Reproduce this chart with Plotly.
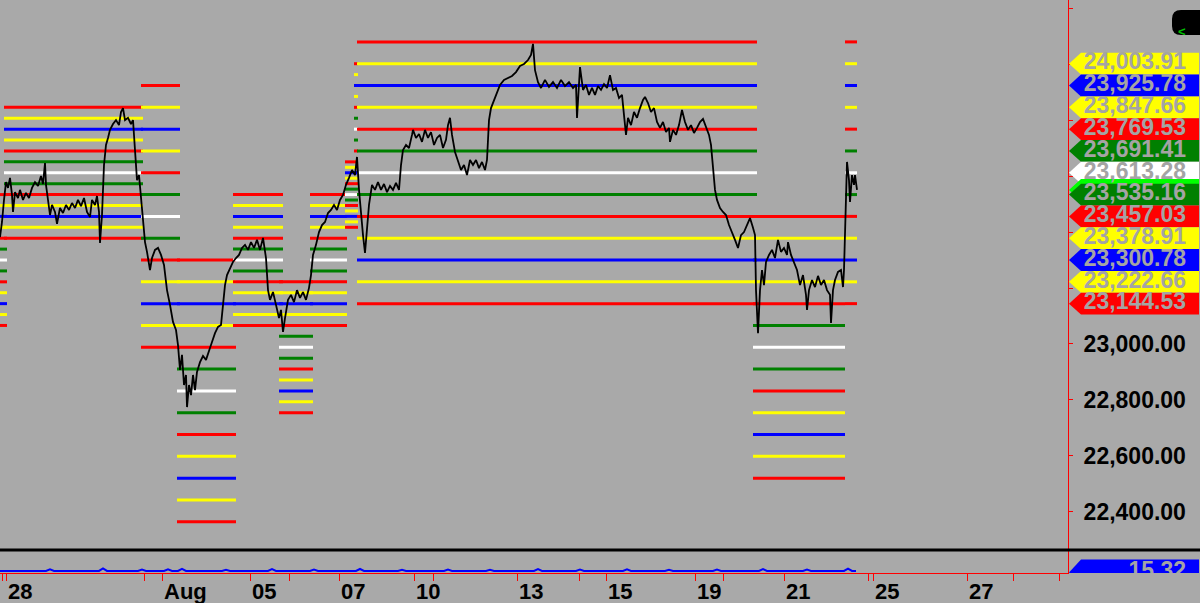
import plotly.graph_objects as go

# ---------------- data ----------------
# price series: bar index (30-min bars) and price
BARS = [0, 2, 4, 6, 8, 10, 12, 13, 15, 18, 20, 23, 26, 29, 32, 35, 38, 41, 43, 45,
        46, 48, 50, 52, 55, 57, 60, 63, 66, 69, 72, 75, 78, 81, 84, 87, 90, 92, 95, 97,
        99, 100, 102, 104, 106, 108, 110, 113, 116, 119, 121, 123, 125, 128, 131, 133, 135, 137, 139, 141,
        143, 145, 147, 150, 152, 155, 158, 161, 164, 167, 170, 173, 176, 178, 180, 182, 184, 186, 187, 189,
        191, 193, 195, 197, 200, 203, 206, 209, 212, 215, 218, 221, 223, 225, 227, 230, 233, 236, 239, 242,
        245, 248, 251, 254, 257, 260, 263, 266, 268, 270, 273, 276, 279, 281, 283, 285, 288, 291, 294, 297,
        300, 303, 306, 309, 311, 313, 316, 319, 322, 325, 328, 331, 334, 337, 340, 343, 346, 349, 352, 355,
        357, 359, 361, 363, 365, 367, 369, 372, 375, 378, 381, 384, 387, 390, 393, 396, 399, 401, 403, 406,
        409, 412, 413, 416, 419, 422, 425, 428, 431, 434, 437, 440, 443, 446, 448, 450, 452, 455, 458, 461,
        464, 467, 470, 473, 476, 479, 482, 485, 487, 489, 491, 494, 497, 500, 504, 508, 512, 516, 520, 524,
        528, 531, 533, 535, 538, 541, 545, 549, 553, 557, 561, 565, 569, 573, 576, 577, 579, 580, 583, 586,
        589, 592, 595, 598, 601, 604, 607, 610, 613, 616, 619, 622, 624, 626, 628, 631, 634, 637, 640, 643,
        645, 648, 651, 654, 657, 660, 663, 666, 669, 670, 673, 676, 679, 682, 685, 688, 691, 694, 697, 700,
        703, 706, 709, 711, 713, 715, 717, 720, 723, 726, 729, 732, 735, 738, 741, 744, 747, 750, 753, 755,
        756, 758, 760, 762, 764, 766, 769, 772, 775, 778, 781, 784, 787, 788, 791, 794, 797, 800, 803, 806,
        807, 809, 812, 815, 818, 821, 824, 827, 830, 831, 833, 835, 838, 841, 843, 844, 845, 846, 847, 849,
        850, 852, 854, 855, 857]
PRICES = [23383, 23437, 23516, 23580, 23559, 23595, 23534, 23473, 23544, 23523, 23552, 23516, 23541, 23523, 23559, 23580, 23566, 23602, 23573, 23648,
          23570, 23516, 23462, 23498, 23473, 23430, 23487, 23469, 23498, 23480, 23505, 23487, 23516, 23494, 23523, 23473, 23455, 23516, 23498, 23530,
          23473, 23362, 23462, 23641, 23713, 23738, 23767, 23788, 23802, 23784, 23831, 23845, 23802, 23810, 23788, 23802, 23695, 23587, 23605, 23516,
          23426, 23365, 23330, 23265, 23308, 23337, 23344, 23319, 23283, 23193, 23140, 23079, 23050, 22996, 22907, 22961, 22853, 22889, 22774, 22853,
          22817, 22889, 22835, 22900, 22935, 22957, 22943, 22979, 23007, 23039, 23061, 23068, 23140, 23211, 23247, 23272, 23294, 23308, 23319, 23344,
          23355, 23337, 23365, 23344, 23373, 23337, 23380, 23308, 23193, 23158, 23186, 23140, 23093, 23122, 23043, 23093, 23158, 23176, 23150, 23193,
          23165, 23186, 23158, 23201, 23247, 23319, 23355, 23401, 23426, 23437, 23469, 23480, 23498, 23480, 23516, 23534, 23570, 23595, 23623, 23605,
          23670, 23552, 23462, 23390, 23326, 23426, 23498, 23570, 23552, 23580, 23552, 23573, 23544, 23566, 23552, 23577, 23552, 23641, 23695, 23713,
          23702, 23749, 23767, 23738, 23752, 23724, 23767, 23738, 23759, 23713, 23738, 23749, 23702, 23731, 23784, 23810, 23749, 23688, 23652, 23623,
          23641, 23605, 23659, 23641, 23659, 23630, 23652, 23623, 23659, 23802, 23845, 23874, 23903, 23928, 23946, 23953, 23960, 23974, 23996, 24003,
          24017, 24035, 24075, 23981, 23938, 23917, 23946, 23921, 23938, 23917, 23946, 23924, 23938, 23917, 23928, 23810, 23910, 23992, 23910, 23928,
          23892, 23917, 23892, 23924, 23910, 23931, 23917, 23963, 23910, 23917, 23881, 23892, 23820, 23749, 23810, 23784, 23831, 23810, 23845, 23874,
          23885, 23863, 23831, 23845, 23795, 23774, 23795, 23759, 23774, 23724, 23767, 23749, 23784, 23838, 23795, 23767, 23784, 23756, 23774, 23795,
          23806, 23774, 23749, 23713, 23616, 23552, 23516, 23487, 23473, 23462, 23426, 23401, 23373, 23344, 23390, 23401, 23426, 23451, 23416, 23390,
          23193, 23039, 23193, 23265, 23211, 23294, 23319, 23337, 23308, 23373, 23330, 23344, 23319, 23365, 23319, 23294, 23265, 23211, 23247, 23176,
          23122, 23193, 23229, 23204, 23244, 23211, 23229, 23193, 23176, 23075, 23193, 23229, 23258, 23265, 23204, 23265, 23408, 23587, 23652, 23587,
          23509, 23605, 23570, 23605, 23552]

# pivot-level blocks: start bar, end bar, middle level, level step
SEG_START = [-10, 4, 141, 177, 233, 279, 310, 354, 345, 357, 753, 845]
SEG_END = [7, 143, 180, 236, 283, 313, 347, 358, 358, 757, 845, 857]
SEG_MID = [23300.78, 23613.28, 23457.03, 22832.03, 23300.78, 22988.28,
           23300.78, 23769.53, 23535.16, 23613.28, 22988.28, 23613.28]
SEG_STEP = [39.0625, 39.0625, 78.125, 78.125, 39.0625, 39.0625,
            39.0625, 39.0625, 19.53125, 78.125, 78.125, 78.125]
LEVEL_OFFSETS = [6, 5, 4, 3, 2, 1, 0, -1, -2, -3, -4, -5, -6]
LEVEL_COLORS = ["red", "yellow", "blue", "yellow", "red", "green", "white",
                "green", "red", "yellow", "blue", "yellow", "red"]

# right-hand price tags
TAG_VALUES = [24003.91, 23925.78, 23847.66, 23769.53, 23691.41, 23613.28,
              23535.16, 23457.03, 23378.91, 23300.78, 23222.66, 23144.53]
TAG_COLORS = ["yellow", "blue", "yellow", "red", "green", "white",
              "green", "red", "yellow", "blue", "yellow", "red"]

# lower indicator panel
IND_X = [0, 46, 50, 54, 99, 103, 107, 138, 142, 146, 164, 168, 172, 178, 182, 186,
         222, 226, 230, 268, 272, 276, 310, 314, 318, 356, 360, 364, 398, 402, 406,
         444, 448, 452, 486, 490, 494, 534, 538, 542, 576, 580, 584, 623, 627, 631,
         665, 669, 673, 713, 717, 721, 759, 763, 767, 803, 807, 811, 844, 848, 852, 856]
IND_V = [16.1, 16.1, 16.9, 16.1, 16.1, 17.4, 16.1, 16.1, 16.8, 16.1, 16.1, 16.9, 16.1,
         16.1, 17.2, 16.1, 16.1, 16.7, 16.1, 16.1, 17.0, 16.1, 16.1, 16.8, 16.1,
         16.1, 17.1, 16.1, 16.1, 16.7, 16.1, 16.1, 16.8, 16.1, 16.1, 16.7, 16.1,
         16.1, 17.0, 16.1, 16.1, 16.8, 16.1, 16.1, 16.9, 16.1, 16.1, 16.7, 16.1,
         16.1, 16.8, 16.1, 16.1, 17.0, 16.1, 16.1, 16.8, 16.1, 16.1, 17.3, 16.1, 16.1]
IND_LAST = 15.32

# x axis ticks
X_TICK_BARS = [6, 162, 250, 339, 414, 517, 606, 695, 784, 873, 967]
X_TICK_LABELS = ["28", "Aug", "05", "07", "10", "13", "15", "19", "21", "25", "27"]
X_MINOR_BARS = [2, 144, 289, 433, 579, 723, 868, 1013, 1059]

Y_TICKS = [22400, 22600, 22800, 23000, 23200, 23400, 23600, 23800, 24000, 24200]
Y_TICK_LABELS = ["22,400.00", "22,600.00", "22,800.00", "23,000.00", "", "", "", "", "", ""]

# ---------------- styling ----------------
BG = "#a9a9a9"
COL = {"red": "#ff0000", "yellow": "#ffff00", "blue": "#0000ff",
       "green": "#008000", "white": "#ffffff", "lime": "#00ff00"}
FONT = "Liberation Sans, Arial, sans-serif"
W, H = 1200, 603
MB = 30
PH = H - MB  # plot area height in px


def px2x(px):
    return px / W


def px2y(py):
    return (PH - py) / PH


fig = go.Figure()

# pivot level lines
for s, e, m, st in zip(SEG_START, SEG_END, SEG_MID, SEG_STEP):
    groups = {}
    for off, c in zip(LEVEL_OFFSETS, LEVEL_COLORS):
        lv = m + off * st
        gx, gy = groups.setdefault(c, ([], []))
        gx += [s, e, None]
        gy += [lv, lv, None]
    for c, (gx, gy) in groups.items():
        fig.add_trace(go.Scatter(x=gx, y=gy, mode="lines", xaxis="x", yaxis="y",
                                 line=dict(color=COL[c], width=3),
                                 hoverinfo="skip", showlegend=False))

# price line
fig.add_trace(go.Scatter(x=BARS, y=PRICES, mode="lines", xaxis="x", yaxis="y",
                         line=dict(color="#000000", width=1.8),
                         hoverinfo="skip", showlegend=False))

# indicator line
fig.add_trace(go.Scatter(x=IND_X, y=IND_V, mode="lines", xaxis="x", yaxis="y2",
                         line=dict(color="#0000ff", width=2),
                         hoverinfo="skip", showlegend=False))

# tags in side panel (x2 in px offsets from the axis line)
HALF = SEG_STEP[-1] / 2.0
LAST_PRICE = PRICES[-1]


def tag(value, color, yaxis, half):
    fig.add_trace(go.Scatter(
        x=[1, 13, 131, 131, 13, 1], y=[value, value + half, value + half,
                                       value - half, value - half, value],
        mode="lines", fill="toself", fillcolor=color, line=dict(width=0, color=color),
        xaxis="x2", yaxis=yaxis, hoverinfo="skip", showlegend=False))


above = [(v, c) for v, c in zip(TAG_VALUES, TAG_COLORS) if v > LAST_PRICE]
below = [(v, c) for v, c in zip(TAG_VALUES, TAG_COLORS) if v <= LAST_PRICE]
for v, c in above:
    tag(v, COL[c], "y", HALF)
tag(LAST_PRICE, COL["lime"], "y", HALF)
for v, c in below:
    tag(v, COL[c], "y", HALF)

TAG_FONT = dict(family=FONT, size=23, color="#a4a4a4", weight="bold")
fig.add_trace(go.Scatter(
    x=[118] * len(TAG_VALUES), y=TAG_VALUES, mode="text",
    text=[f"{v:,.2f}" for v in TAG_VALUES], textposition="middle left",
    textfont=TAG_FONT, xaxis="x2", yaxis="y", hoverinfo="skip", showlegend=False))

# lower panel tag
Y2_RANGE = [15.0, 26.5]
Y2_PX = 22
half2 = 13 * (Y2_RANGE[1] - Y2_RANGE[0]) / Y2_PX
tag(IND_LAST, COL["blue"], "y2", half2)
fig.add_trace(go.Scatter(
    x=[118], y=[IND_LAST], mode="text", text=[f"{IND_LAST:,.2f}"],
    textposition="middle left", textfont=TAG_FONT,
    xaxis="x2", yaxis="y2", hoverinfo="skip", showlegend=False))

# x labels
for b, lab in zip(X_TICK_BARS, X_TICK_LABELS):
    fig.add_annotation(x=b, xref="x", y=0, yref="paper", text=lab, showarrow=False,
                       xanchor="left", yanchor="top", xshift=0, yshift=-4,
                       font=dict(family=FONT, size=22, color="#000000", weight="bold"))

# top-right button
bx0, bx1, by0, by1, r = 1172, 1201, 10, 35, 9
path = (f"M {px2x(bx0 + r)},{px2y(by0)} L {px2x(bx1)},{px2y(by0)} L {px2x(bx1)},{px2y(by1)} "
        f"L {px2x(bx0 + r)},{px2y(by1)} Q {px2x(bx0)},{px2y(by1)} {px2x(bx0)},{px2y(by1 - r)} "
        f"L {px2x(bx0)},{px2y(by0 + r)} Q {px2x(bx0)},{px2y(by0)} {px2x(bx0 + r)},{px2y(by0)} Z")
fig.add_shape(type="path", path=path, xref="paper", yref="paper",
              fillcolor="#000000", line=dict(width=0), layer="above")
fig.add_annotation(x=px2x(1188), y=px2y(22), xref="paper", yref="paper", text="<",
                   showarrow=False, font=dict(family=FONT, size=13, color="#00c000", weight="bold"))

# separator
fig.add_shape(type="line", xref="paper", yref="paper", x0=0, x1=1,
              y0=px2y(550), y1=px2y(550), line=dict(color="#000000", width=3), layer="above")

main_top = 0
main_bot = 549
fig.update_layout(
    width=W, height=H, margin=dict(l=0, r=0, t=0, b=MB, pad=0),
    paper_bgcolor=BG, plot_bgcolor=BG, showlegend=False,
    xaxis=dict(domain=[0, 1068 / W], range=[0, 1068], anchor="y2",
               showgrid=False, zeroline=False, showline=True, linecolor="#ff0000", linewidth=1,
               ticks="outside", ticklen=7, tickcolor="#ff0000", tickwidth=1,
               tickvals=X_TICK_BARS + X_MINOR_BARS, showticklabels=False, fixedrange=True),
    yaxis=dict(domain=[px2y(main_bot), px2y(main_top)], range=[22265.7, 24232.1],
               side="right", anchor="x", showgrid=False, zeroline=False,
               showline=True, linecolor="#ff0000", linewidth=1,
               ticks="outside", ticklen=4, tickcolor="#ff0000", tickwidth=1,
               tickvals=Y_TICKS, ticktext=Y_TICK_LABELS, ticklabelstandoff=6,
               tickfont=dict(family=FONT, size=23, color="#000000", weight="bold")),
    yaxis2=dict(domain=[0, px2y(PH - Y2_PX)], range=Y2_RANGE, side="right", anchor="x",
                showgrid=False, zeroline=False, showline=True, linecolor="#ff0000",
                linewidth=1, showticklabels=False, ticks=""),
    xaxis2=dict(domain=[1068 / W, 1], range=[0, 132], anchor="y", visible=False,
                fixedrange=True),
)

fig.write_html("out.html", config={"displayModeBar": False},
               post_script="document.body.style.margin='0';document.body.style.padding='0';"
                           "document.body.style.background='" + BG + "';")
